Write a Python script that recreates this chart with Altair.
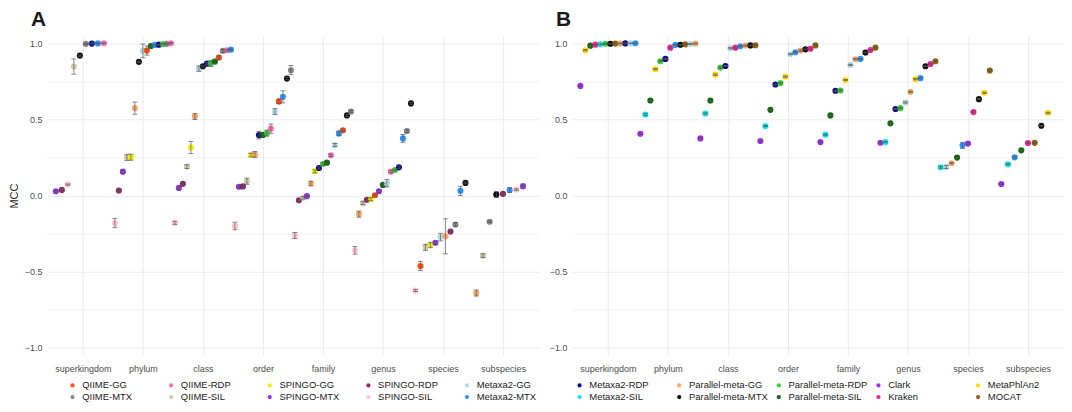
import altair as alt
import pandas as pd
import numpy as np

NA = float("nan")

RANKS = ["superkingdom", "phylum", "class", "order", "family", "genus", "species", "subspecies"]

METHODS = ["QIIME-GG", "QIIME-MTX", "QIIME-RDP", "QIIME-SIL",
           "SPINGO-GG", "SPINGO-MTX", "SPINGO-RDP", "SPINGO-SIL",
           "Metaxa2-GG", "Metaxa2-MTX", "Metaxa2-RDP", "Metaxa2-SIL",
           "Parallel-meta-GG", "Parallel-meta-MTX", "Parallel-meta-RDP", "Parallel-meta-SIL",
           "Clark", "Kraken", "MetaPhlAn2", "MOCAT"]
COLORS = ["#FF4500", "#7F7F7F", "#FF69B4", "#CDC8A8",
          "#EEEE00", "#8A2BE2", "#8B1C62", "#FFC0CB",
          "#ADD8E6", "#1E90FF", "#000080", "#00E5EE",
          "#F4A460", "#000000", "#32CD32", "#006400",
          "#A020F0", "#FF1493", "#FFD700", "#8B5A00"]

LEGEND_A = ["QIIME-GG", "QIIME-RDP", "SPINGO-GG", "SPINGO-RDP", "Metaxa2-GG",
            "QIIME-MTX", "QIIME-SIL", "SPINGO-MTX", "SPINGO-SIL", "Metaxa2-MTX"]
LEGEND_B = ["Metaxa2-RDP", "Parallel-meta-GG", "Parallel-meta-RDP", "Clark", "MetaPhlAn2",
            "Metaxa2-SIL", "Parallel-meta-MTX", "Parallel-meta-SIL", "Kraken", "MOCAT"]

# ---------------- Panel A: MCC per rank (None = not evaluated, NA = missing value)
a_qiime_gg = [None, 0.952, 0.906, 0.618, 0.428, 0.002, -0.463, None]
a_qiime_mtx = [0.996, 0.996, 0.950, 0.823, 0.552, 0.424, -0.190, -0.172]
a_qiime_rdp = [1.000, 1.000, 0.954, 0.439, 0.264, 0.157, None, None]
a_qiime_sil = [0.847, 0.251, 0.190, 0.094, -0.015, -0.050, -0.340, -0.395]
a_spingo_gg = [None, 0.252, 0.316, 0.266, 0.159, -0.024, -0.325, None]
a_spingo_mtx = [0.028, 0.157, 0.050, 0.058, -0.004, 0.028, -0.310, 0.061]
a_spingo_rdp = [0.037, 0.033, 0.077, 0.060, -0.031, -0.028, -0.236, 0.011]
a_spingo_sil = [0.072, -0.181, -0.179, -0.200, -0.262, -0.360, -0.624, 0.039]
a_metaxa2_gg = [None, 0.950, 0.834, 0.552, 0.332, 0.081, -0.273, None]
a_metaxa2_mtx = [0.999, 0.989, 0.958, 0.648, 0.408, 0.375, 0.031, 0.036]
a_metaxa2_rdp = [0.998, 0.991, 0.866, 0.397, 0.181, 0.185, None, None]
a_pm_gg = [None, 0.574, 0.520, 0.270, 0.079, -0.122, -0.268, -0.640]
a_pm_mtx = [0.919, 0.878, 0.849, 0.768, 0.526, 0.605, 0.083, 0.007]
a_pm_rdp = [None, 0.994, 0.868, 0.410, 0.207, 0.168, None, None]
a_pm_sil = [NA, 0.982, 0.880, 0.398, 0.216, 0.070, NA, NA]

# error bar half-widths, panel A
e_a_qiime_gg = [0, 0.030, 0.012, 0.015, 0.008, 0.006, 0.030, 0]
e_a_qiime_mtx = [0.003, 0.004, 0.010, 0.030, 0.008, 0.010, 0.012, 0.006]
e_a_qiime_rdp = [0.003, 0.004, 0.006, 0.030, 0.008, 0.008, 0, 0]
e_a_qiime_sil = [0.050, 0.020, 0.012, 0.020, 0.008, 0.010, 0.020, 0.012]
e_a_spingo_gg = [0, 0.020, 0.040, 0.012, 0.010, 0.010, 0.018, 0]
e_a_spingo_mtx = [0.005, 0.010, 0.008, 0.006, 0.006, 0.008, 0.010, 0.015]
e_a_spingo_rdp = [0.005, 0.008, 0.006, 0.006, 0.006, 0.006, 0.008, 0.006]
e_a_spingo_sil = [0.004, 0.030, 0.010, 0.025, 0.020, 0.025, 0.007, 0.005]
e_a_metaxa2_gg = [0, 0.045, 0.018, 0.020, 0.010, 0.025, 0.025, 0]
e_a_metaxa2_mtx = [0.003, 0.005, 0.006, 0.040, 0.015, 0.025, 0.030, 0.015]
e_a_metaxa2_rdp = [0.003, 0.004, 0.008, 0.025, 0.008, 0.008, 0, 0]
e_a_pm_gg = [0, 0.040, 0.020, 0.020, 0.015, 0.020, 0.115, 0.020]
e_a_pm_mtx = [0.004, 0.005, 0.006, 0.008, 0.006, 0.006, 0.006, 0.020]
e_a_pm_rdp = [0, 0.004, 0.020, 0.020, 0.008, 0.006, 0, 0]
e_a_pm_sil = [0, 0.005, 0.015, 0.008, 0.010, 0.010, 0, 0]

# ---------------- Panel B
b_metaxa2_gg = [0.9995, 0.995, 0.967, 0.928, 0.858, 0.611, 0.187, None]
b_metaxa2_mtx = [1.000, 0.989, 0.980, 0.941, 0.897, 0.771, 0.330, 0.251]
b_metaxa2_rdp = [0.999, 0.897, 0.851, 0.729, 0.688, 0.568, NA, NA]
b_metaxa2_sil = [0.993, 0.532, 0.539, 0.456, 0.400, 0.351, 0.186, 0.205]
b_pm_gg = [0.9985, 0.998, 0.985, 0.952, 0.895, 0.681, 0.212, None]
b_pm_mtx = [0.997, 0.990, 0.986, 0.960, 0.939, 0.849, 0.633, 0.458]
b_pm_rdp = [0.9965, 0.882, 0.840, 0.738, 0.690, 0.574, None, None]
b_pm_sil = [0.984, 0.624, 0.624, 0.563, 0.526, 0.474, 0.249, 0.297]
b_clark = [0.720, 0.406, 0.375, 0.358, 0.351, 0.347, 0.341, 0.076]
b_kraken = [0.991, 0.971, 0.971, 0.964, 0.956, 0.864, 0.548, 0.345]
b_metaphlan2 = [0.954, 0.830, 0.794, 0.781, 0.758, 0.764, 0.675, 0.543]
b_mocat = [0.998, 0.993, 0.987, 0.986, 0.971, 0.882, 0.821, 0.346]

e_b_metaxa2_gg = [0.003, 0.003, 0.004, 0.004, 0.004, 0.004, 0.010, 0]
e_b_metaxa2_mtx = [0.003, 0.003, 0.004, 0.004, 0.004, 0.004, 0.020, 0.006]
e_b_metaxa2_rdp = [0.003, 0.004, 0.004, 0.004, 0.004, 0.004, 0, 0]
e_b_metaxa2_sil = [0.003, 0.006, 0.004, 0.004, 0.004, 0.005, 0.006, 0.004]
e_b_pm_gg = [0.003, 0.003, 0.004, 0.004, 0.004, 0.004, 0.004, 0]
e_b_pm_mtx = [0.003, 0.003, 0.003, 0.003, 0.003, 0.003, 0.003, 0.003]
e_b_pm_rdp = [0.003, 0.004, 0.004, 0.004, 0.004, 0.004, 0, 0]
e_b_pm_sil = [0.003, 0.004, 0.004, 0.004, 0.004, 0.004, 0.004, 0.004]
e_b_clark = [0.004, 0.004, 0.004, 0.004, 0.004, 0.004, 0.006, 0.004]
e_b_kraken = [0.003, 0.004, 0.004, 0.004, 0.004, 0.004, 0.004, 0.004]
e_b_metaphlan2 = [0.004, 0.004, 0.004, 0.004, 0.004, 0.004, 0.004, 0.004]
e_b_mocat = [0.003, 0.003, 0.003, 0.003, 0.003, 0.003, 0.004, 0.004]

SERIES_A = [
    ("QIIME-GG", a_qiime_gg, e_a_qiime_gg), ("QIIME-MTX", a_qiime_mtx, e_a_qiime_mtx),
    ("QIIME-RDP", a_qiime_rdp, e_a_qiime_rdp), ("QIIME-SIL", a_qiime_sil, e_a_qiime_sil),
    ("SPINGO-GG", a_spingo_gg, e_a_spingo_gg), ("SPINGO-MTX", a_spingo_mtx, e_a_spingo_mtx),
    ("SPINGO-RDP", a_spingo_rdp, e_a_spingo_rdp), ("SPINGO-SIL", a_spingo_sil, e_a_spingo_sil),
    ("Metaxa2-GG", a_metaxa2_gg, e_a_metaxa2_gg), ("Metaxa2-MTX", a_metaxa2_mtx, e_a_metaxa2_mtx),
    ("Metaxa2-RDP", a_metaxa2_rdp, e_a_metaxa2_rdp),
    ("Parallel-meta-GG", a_pm_gg, e_a_pm_gg), ("Parallel-meta-MTX", a_pm_mtx, e_a_pm_mtx),
    ("Parallel-meta-RDP", a_pm_rdp, e_a_pm_rdp), ("Parallel-meta-SIL", a_pm_sil, e_a_pm_sil),
]
SERIES_B = [
    ("Metaxa2-GG", b_metaxa2_gg, e_b_metaxa2_gg), ("Metaxa2-MTX", b_metaxa2_mtx, e_b_metaxa2_mtx),
    ("Metaxa2-RDP", b_metaxa2_rdp, e_b_metaxa2_rdp), ("Metaxa2-SIL", b_metaxa2_sil, e_b_metaxa2_sil),
    ("Parallel-meta-GG", b_pm_gg, e_b_pm_gg), ("Parallel-meta-MTX", b_pm_mtx, e_b_pm_mtx),
    ("Parallel-meta-RDP", b_pm_rdp, e_b_pm_rdp), ("Parallel-meta-SIL", b_pm_sil, e_b_pm_sil),
    ("Clark", b_clark, e_b_clark), ("Kraken", b_kraken, e_b_kraken),
    ("MetaPhlAn2", b_metaphlan2, e_b_metaphlan2), ("MOCAT", b_mocat, e_b_mocat),
]


def build(series):
    """Dodge the methods within each rank, ordered by MCC (like position_dodge)."""
    rows = []
    for ri, rank in enumerate(RANKS):
        grp = [(m, vals[ri], errs[ri]) for m, vals, errs in series if vals[ri] is not None]
        n = len(grp)
        grp = sorted(grp, key=lambda t: (np.isnan(t[1]), 0 if np.isnan(t[1]) else t[1]))
        for k, (m, v, e) in enumerate(grp):
            if np.isnan(v):
                continue
            rows.append(dict(rank=rank, method=m, mcc=v, lo=v - e, hi=v + e,
                             xpos=ri - 0.5 + (k + 0.5) / n))
    return pd.DataFrame(rows)


FONT = "Liberation Sans"
GRID = "#EBEBEB"
label_expr = "[" + ",".join("'%s'" % r for r in RANKS) + "][datum.value]"
xscale = alt.Scale(domain=[-0.6, len(RANKS) - 0.4], nice=False, zero=False)
yscale = alt.Scale(domain=[-1.05, 1.05], nice=False, zero=False)
W, H = 494, 321


def panel(df, letter, legend_vals, ytitle, leg_x, col_pad):
    xaxis = alt.Axis(values=list(range(len(RANKS))), labelExpr=label_expr, title=None,
                     grid=True, gridColor=GRID, gridWidth=1, ticks=False, domain=False,
                     labelFontSize=9, labelColor="#4D4D4D", labelPadding=9, labelFont=FONT)
    x = alt.X("xpos:Q", scale=xscale, axis=xaxis)
    main_axis = alt.Axis(values=[-1, -0.5, 0, 0.5, 1], format=".1f", grid=True, gridColor=GRID,
                         gridWidth=1, ticks=False, domain=False, labelFontSize=9,
                         labelColor="#4D4D4D", labelPadding=5, labelFont=FONT,
                         title=ytitle, titleFontSize=11, titleFontWeight="normal",
                         titleColor="#1a1a1a", titlePadding=5, titleFont=FONT, orient="left")
    minor_axis = alt.Axis(values=[-0.75, -0.25, 0.25, 0.75], grid=True, gridColor=GRID,
                          gridWidth=0.6, ticks=False, domain=False, labels=False, title=None,
                          orient="left")
    base = alt.Chart(df)
    pts = base.mark_circle(size=38, opacity=0.95).encode(
        x=x,
        y=alt.Y("mcc:Q", scale=yscale, axis=main_axis),
        color=alt.Color("method:N", scale=alt.Scale(domain=METHODS, range=COLORS),
                        legend=alt.Legend(title=None, orient="none", legendX=leg_x, legendY=346,
                                          direction="horizontal", columns=5, values=legend_vals,
                                          symbolType="circle", symbolSize=18, gridAlign="all",
                                          labelFontSize=9.5, labelFont=FONT,
                                          labelColor="#1a1a1a", columnPadding=col_pad,
                                          rowPadding=1, labelOffset=5)),
    )
    bars = base.mark_rule(color="#555555", strokeWidth=0.8, opacity=0.85).encode(
        x=x, y=alt.Y("lo:Q", scale=yscale, axis=minor_axis), y2="hi:Q")
    cap_lo = base.mark_tick(orient="horizontal", color="#555555", size=5, thickness=0.8,
                            opacity=0.85).encode(x=x, y=alt.Y("lo:Q", scale=yscale, axis=None))
    cap_hi = base.mark_tick(orient="horizontal", color="#555555", size=5, thickness=0.8,
                            opacity=0.85).encode(x=x, y=alt.Y("hi:Q", scale=yscale, axis=None))
    return alt.layer(pts, bars, cap_lo, cap_hi).resolve_axis(y="independent").properties(
        width=W, height=H,
        title=alt.TitleParams(letter, anchor="start", frame="group", dx=-16, fontSize=21,
                              fontWeight="bold", font=FONT, color="#1a1a1a", offset=6))


dfa = build(SERIES_A)
dfb = build(SERIES_B)

chart = alt.hconcat(
    panel(dfa, "A", LEGEND_A, "MCC", 21, 24),
    panel(dfb, "B", LEGEND_B, None, 3, 6),
    spacing=33, bounds="flush",
).resolve_scale(color="independent").properties(
    padding={"left": 0, "top": 0, "right": 0, "bottom": 0}
).configure_view(stroke=None)

chart.save("out.html", embed_options={"renderer": "svg", "actions": False})
